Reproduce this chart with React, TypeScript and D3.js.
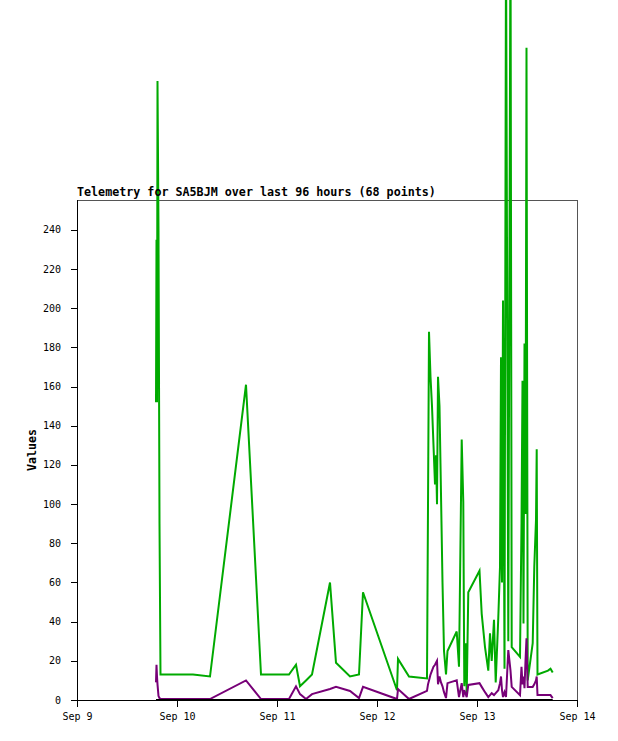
import React from "react";
import * as d3 from "d3";

// hours since Sep 9 00:00
const hours = [18.96, 19.08, 19.2, 19.32, 19.56, 19.8, 20.04, 27.84, 31.92, 40.56, 44.16, 50.88, 52.56, 53.52, 54.96, 56.4, 60.72, 62.16, 65.52, 67.68, 68.64, 76.8, 77.04, 79.68, 84.0, 84.24, 84.48, 84.84, 85.2, 85.56, 85.92, 86.16, 86.4, 86.64, 87.0, 87.36, 87.72, 88.08, 88.56, 88.92, 91.13, 91.68, 92.33, 92.71, 92.95, 93.29, 93.53, 93.91, 96.6, 97.13, 97.92, 98.71, 99.12, 99.53, 100.08, 100.49, 101.11, 101.52, 101.76, 102.0, 102.24, 102.6, 102.96, 103.51, 104.04, 104.33, 106.32, 106.68, 106.92, 107.16, 107.4, 107.64, 107.88, 108.17, 109.37, 109.75, 110.16, 110.33, 110.52, 113.04, 113.64, 114.17];

const greenValues = [152, 235, 152, 316, 240, 90, 13, 13, 12, 161, 13, 13, 18, 7, 10, 13, 60, 19, 12, 13, 55, 5, 21, 12, 11, 99, 188, 165, 150, 130, 110, 125, 100, 165, 150, 105, 60, 25, 13, 25, 35, 17, 133, 101, 7, 29, 3, 55, 66, 44, 27, 15, 34, 20, 41, 9, 42, 68, 175, 60, 204, 16, 390, 30, 400, 27, 22, 90, 163, 39, 182, 95, 333, 10, 29, 68, 92, 128, 13, 15, 16, 14];

const purpleValues = [9, 18, 12, 8, 2, 1, 0.5, 0.5, 0.5, 10, 0.5, 0.5, 7, 3, 0.5, 3, 5.6, 6.7, 4.6, 1, 6.7, 0.5, 5.6, 0.5, 4.7, 8, 10, 13, 15, 17, 18, 19, 20, 8, 12, 9, 7, 4, 1, 8.6, 10, 1.5, 8.6, 1.5, 5, 3, 1.5, 7.7, 8.6, 6.7, 4, 1.5, 2.5, 3.5, 2.5, 3.5, 5, 8.6, 12, 5, 1.5, 4, 1.5, 25.5, 15, 6.7, 2.5, 17, 8, 12, 6, 20, 31.5, 6.7, 6.7, 8, 10, 12, 2.5, 2.5, 2.5, 1];

const blackValues = hours.map(() => 0);

const yTicks = [0, 20, 40, 60, 80, 100, 120, 140, 160, 180, 200, 220, 240];
const dayTickLabels = ["Sep 9", "Sep 10", "Sep 11", "Sep 12", "Sep 13", "Sep 14"];
const titleText = "Telemetry for SA5BJM over last 96 hours (68 points)";
const yAxisLabel = "Values";

const W = 618;
const H = 741;
const left = 77, right = 577, top = 200, bottom = 700;

export default function App() {
  const x = d3.scaleLinear().domain([0, 120]).range([left, right]);
  const y = d3.scaleLinear().domain([0, 255.3]).range([bottom, top]);

  const mk = (vals: number[]) =>
    d3
      .line<number>()
      .x((_, i) => x(hours[i]))
      .y((v) => y(v))(vals) || "";

  const mono = "'DejaVu Sans Mono', 'Liberation Mono', monospace";

  return (
    <svg
      width={W}
      height={H}
      style={{ position: "absolute", left: 0, top: 0, background: "#fff" }}
    >
      <rect x={0} y={0} width={W} height={H} fill="#fff" />
      {/* frame */}
      <line x1={left} y1={top + 0.5} x2={right} y2={top + 0.5} stroke="#555" />
      <line x1={right + 0.5} y1={top} x2={right + 0.5} y2={bottom} stroke="#555" />

      {/* series */}
      <path d={mk(greenValues)} fill="none" stroke="#00aa00" strokeWidth={2} />
      <path d={mk(purpleValues)} fill="none" stroke="#770077" strokeWidth={2} />
      <path d={mk(blackValues)} fill="none" stroke="#000" strokeWidth={2} />

      {/* axes */}
      <line x1={left + 0.5} y1={top} x2={left + 0.5} y2={bottom + 1} stroke="#000" />
      <line x1={left} y1={bottom + 0.5} x2={right + 1} y2={bottom + 0.5} stroke="#000" />

      {yTicks.map((t) => (
        <g key={t}>
          <line x1={left - 6} x2={left} y1={Math.round(y(t)) + 0.5} y2={Math.round(y(t)) + 0.5} stroke="#000" />
          <text
            x={left - 16}
            y={y(t) + 3.5}
            textAnchor="end"
            fontFamily={mono}
            fontSize={10}
            fill="#000"
          >
            {t}
          </text>
        </g>
      ))}

      {dayTickLabels.map((lab, i) => {
        const xx = Math.round(x(i * 24)) + 0.5;
        return (
          <g key={lab}>
            <line x1={xx} x2={xx} y1={bottom} y2={bottom + 7} stroke="#000" />
            <text
              x={xx}
              y={bottom + 20}
              textAnchor="middle"
              fontFamily={mono}
              fontSize={10}
              fill="#000"
            >
              {lab}
            </text>
          </g>
        );
      })}

      <text
        x={left}
        y={196}
        fontFamily={mono}
        fontSize={11.7}
        fontWeight="bold"
        fill="#000"
      >
        {titleText}
      </text>

      <text
        transform={`translate(36,${(top + bottom) / 2}) rotate(-90)`}
        textAnchor="middle"
        fontFamily={mono}
        fontSize={11.6}
        fontWeight="bold"
        fill="#000"
      >
        {yAxisLabel}
      </text>
    </svg>
  );
}
